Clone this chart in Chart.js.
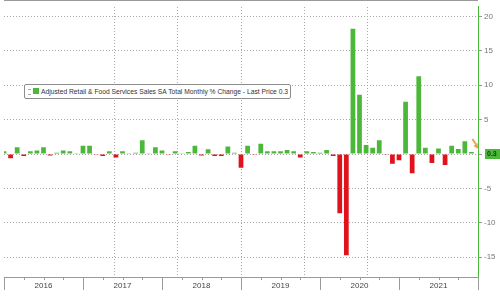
<!DOCTYPE html>
<html>
<head>
<meta charset="utf-8">
<script src="https://cdn.jsdelivr.net/npm/chart.js@4.4.1/dist/chart.umd.min.js"></script>
<style>
  html, body { margin: 0; padding: 0; background: #fff; }
  #wrap { position: relative; width: 500px; height: 296px; }
  #legend {
    position: absolute; left: 24px; top: 84px; width: 265px; height: 13px;
    border: 1px solid #8c8c8c; border-radius: 2px; background: #fff;
    font: 7px "Liberation Sans", sans-serif; color: #333; white-space: nowrap; overflow: hidden;
  }
  #legend .grip { position: absolute; left: 3px; top: 4px; width: 3px; height: 4px;
    border-top: 1px solid #aaa; border-bottom: 1px solid #aaa; }
  #legend .sw { position: absolute; left: 8px; top: 3px; width: 6px; height: 6px; background: #4cb83a; }
  #legend .txt { position: absolute; left: 16px; top: 2px; line-height: 9px; transform-origin: 0 50%; }
</style>
</head>
<body>
<div id="wrap">
  <canvas id="chart" width="500" height="296"></canvas>
  <div id="legend"><span class="grip"></span><span class="sw"></span><span class="txt" id="legTxt">Adjusted Retail &amp; Food Services Sales SA Total Monthly % Change - Last Price 0.3</span></div>
</div>
<script>
// month-end points, Dec 2015 .. Dec 2021
const years = ['2016', '2017', '2018', '2019', '2020', '2021'];
const monthNames = ['Jan','Feb','Mar','Apr','May','Jun','Jul','Aug','Sep','Oct','Nov','Dec'];

// % change month over month
const dec2015 = [0.4];
const v2016 = [-0.6, 1.0, -0.3, 0.4, 0.5, 1.0, -0.2, 0.2, 0.5, 0.4, 0.1, 1.2];
const v2017 = [1.2, -0.1, -0.3, 0.4, -0.5, 0.4, 0.1, 0.2, 2.0, 0.1, 1.0, 0.5];
const v2018 = [-0.1, 0.4, 0.1, 0.3, 1.2, -0.2, 0.7, -0.3, -0.3, 1.1, 0.2, -2.0];
const v2019 = [1.2, -0.1, 1.5, 0.4, 0.4, 0.4, 0.6, 0.4, -0.5, 0.4, 0.3, 0.2];
const v2020 = [0.6, -0.3, -8.6, -14.7, 18.2, 8.6, 1.3, 0.9, 2.0, -0.1, -1.4, -0.9];
const v2021 = [7.6, -2.8, 11.3, 0.9, -1.3, 0.8, -1.6, 1.2, 0.75, 1.85, 0.3, null];

const yTicks = [20, 15, 10, 5, 0, -5, -10, -15];
const yearEdges = [12, 24, 36, 48, 60];   // Dec of each year, by month index
const lastPrice = '0.3';

const labels = ['Dec 2015'];
years.forEach(y => monthNames.forEach(m => labels.push(m + ' ' + y)));
const values = [].concat(dec2015, v2016, v2017, v2018, v2019, v2020, v2021);

const GREEN = '#4cb83a';
const RED = '#e0121c';
const GRID = '#a8a8a8';

Chart.defaults.font.family = '"Liberation Sans", Arial, sans-serif';
Chart.defaults.animation = false;

// tick marks under the axis, top frame, badge and arrow
const extras = {
  id: 'extras',
  afterDraw(chart) {
    const ctx = chart.ctx;
    const xs = chart.scales.x, ys = chart.scales.y;
    const a = chart.chartArea;
    ctx.save();
    ctx.strokeStyle = '#9a9a9a';
    ctx.lineWidth = 1;
    for (let i = 0; i < labels.length; i += 3) {
      const x = Math.round(xs.getPixelForValue(i)) + 0.5;
      const len = i % 12 === 0 ? 13 : 3;
      ctx.beginPath();
      ctx.moveTo(x, a.bottom);
      ctx.lineTo(x, a.bottom + len);
      ctx.stroke();
    }
    // top frame line
    ctx.beginPath();
    ctx.moveTo(a.left, 0.5);
    ctx.lineTo(a.right, 0.5);
    ctx.stroke();

    // orange arrow near the last bar
    const lx = xs.getPixelForValue(values.length - 2);
    const ly = ys.getPixelForValue(0);
    ctx.strokeStyle = '#f0a050';
    ctx.fillStyle = '#f0a050';
    ctx.lineWidth = 2;
    ctx.beginPath();
    ctx.moveTo(lx + 1, ly - 15);
    ctx.lineTo(lx + 5, ly - 9);
    ctx.stroke();
    ctx.beginPath();
    ctx.moveTo(lx + 7, ly - 5);
    ctx.lineTo(lx + 2, ly - 8);
    ctx.lineTo(lx + 6, ly - 11);
    ctx.closePath();
    ctx.fill();

    // last price badge on the right axis
    const by = Math.round(ys.getPixelForValue(0));
    ctx.fillStyle = GREEN;
    ctx.fillRect(485, by - 5, 15, 10);
    ctx.fillStyle = '#1c3a14';
    ctx.font = 'bold 7px "Liberation Sans", Arial, sans-serif';
    ctx.textBaseline = 'middle';
    ctx.textAlign = 'left';
    ctx.fillText(lastPrice, 487, by + 0.5);
    ctx.restore();
  }
};

new Chart(document.getElementById('chart'), {
  type: 'bar',
  data: {
    labels: labels,
    datasets: [{
      data: values,
      backgroundColor: ctx => (ctx.raw < 0 ? RED : GREEN),
      borderWidth: 0,
      categoryPercentage: 1,
      barPercentage: 0.72
    }]
  },
  options: {
    responsive: false,
    maintainAspectRatio: false,
    layout: { padding: { left: 0, right: 0, top: 0, bottom: 0 } },
    plugins: { legend: { display: false }, tooltip: { enabled: false } },
    scales: {
      x: {
        offset: false,
        grid: { display: false, drawTicks: false },
        border: { display: true, color: '#9a9a9a' },
        ticks: {
          autoSkip: false,
          maxRotation: 0,
          minRotation: 0,
          padding: 4,
          color: '#444',
          font: { size: 8 },
          callback: (v, i) => (i % 12 === 6 ? years[(i - 6) / 12] : '')
        },
        afterFit: s => { s.height = 19; }
      },
      // helper axis only for the dotted year separators
      yearGrid: {
        type: 'linear',
        axis: 'x',
        position: 'top',
        min: 0,
        max: labels.length - 1,
        afterBuildTicks: s => { s.ticks = yearEdges.map(v => ({ value: v })); },
        grid: { color: GRID, drawTicks: false, offset: false },
        border: { display: false, dash: [1, 2] },
        ticks: { display: false },
        afterFit: s => { s.height = 0; }
      },
      y: {
        position: 'right',
        min: -17.87,
        max: 21.4,
        afterBuildTicks: s => { s.ticks = yTicks.map(v => ({ value: v })); },
        grid: {
          color: GRID,
          tickColor: '#9a9a9a',
          tickLength: 4,
          tickBorderDash: []
        },
        border: { display: true, color: GREEN, dash: [1, 2] },
        ticks: {
          padding: 2,
          color: '#777',
          font: { size: 8 },
          callback: v => (v === 0 ? '' : String(v))
        },
        afterFit: s => { s.width = 22; }
      }
    }
  },
  plugins: [extras]
});

// squeeze legend text to the box width
const t = document.getElementById('legTxt');
const w = t.getBoundingClientRect().width;
t.style.transform = 'scaleX(' + (247 / w) + ')';
</script>
</body>
</html>
